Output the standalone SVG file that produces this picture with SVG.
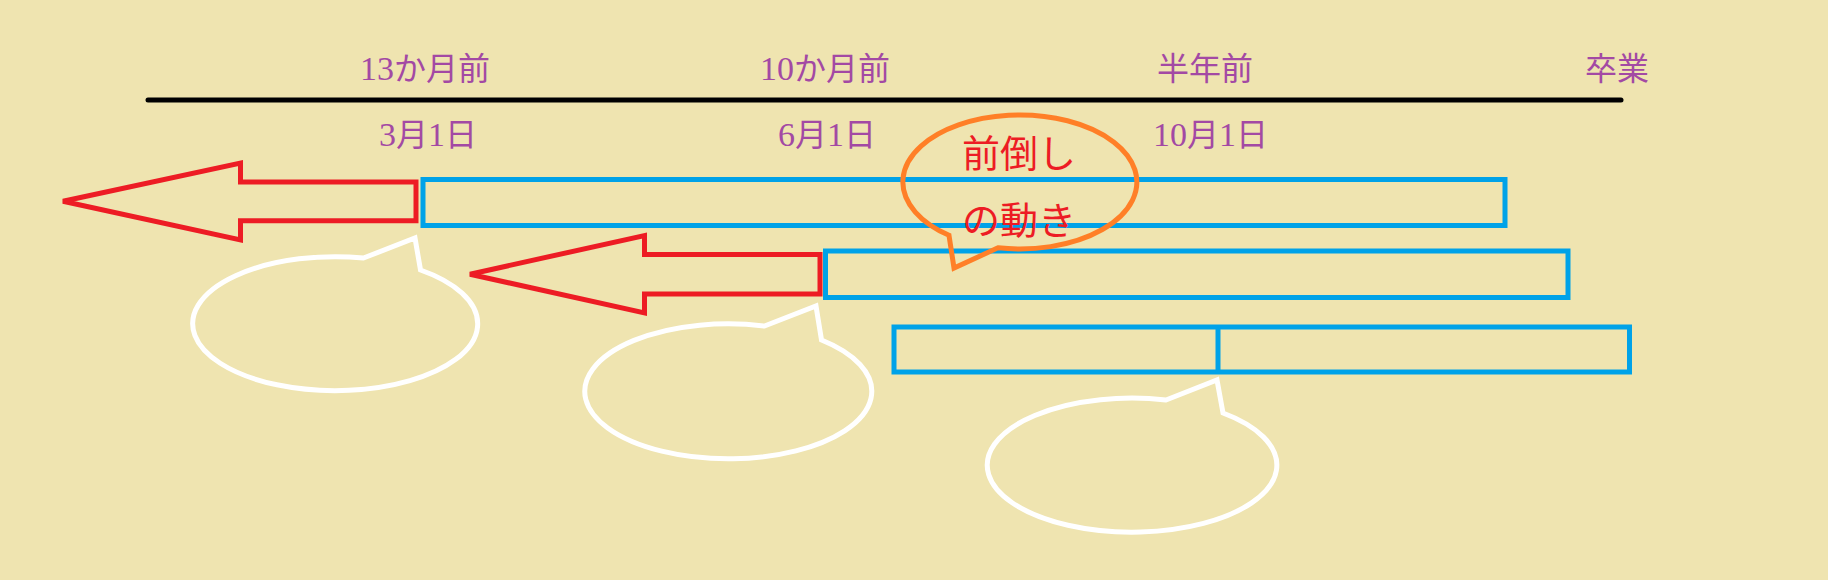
<svg xmlns="http://www.w3.org/2000/svg" width="1828" height="580" viewBox="0 0 1828 580">
<style>
.lbl{font-family:"Liberation Serif","Noto Sans CJK JP",serif;font-size:32px;fill:#A349A4}
.d{font-size:34px}
.say{font-family:"Liberation Serif","Noto Sans CJK JP",sans-serif;font-size:38px;fill:#ED1C24}
.bar{fill:none;stroke:#00A2E8;stroke-width:5}
.arr{fill:none;stroke:#ED1C24;stroke-width:5;stroke-linejoin:miter}
.wb{fill:none;stroke:#FFFFFF;stroke-width:5}
.ob{fill:none;stroke:#FF7F27;stroke-width:5}
</style>
<rect width="1828" height="580" fill="#EFE4B0"/>
<g id="connectors">
<line x1="148" y1="100" x2="1621" y2="100" stroke="#000" stroke-width="5" stroke-linecap="round"/>
</g>
<g id="top-labels">
<text class="lbl" x="360" y="79.5"><tspan class="d">13</tspan>か月前</text>
<text class="lbl" x="760" y="79.5"><tspan class="d">10</tspan>か月前</text>
<text class="lbl" x="1157" y="79.5">半年前</text>
<text class="lbl" x="1585" y="79.5">卒業</text>
</g>
<g id="date-labels">
<text class="lbl" x="379" y="146"><tspan class="d">3</tspan>月<tspan class="d">1</tspan>日</text>
<text class="lbl" x="778" y="146"><tspan class="d">6</tspan>月<tspan class="d">1</tspan>日</text>
<text class="lbl" x="1153" y="146"><tspan class="d">10</tspan>月<tspan class="d">1</tspan>日</text>
</g>
<g id="bar1"><rect class="bar" x="423" y="179.5" width="1082" height="46"/></g>
<g id="bar2"><rect class="bar" x="825.5" y="251" width="742.5" height="46.5"/></g>
<g id="bar3"><rect class="bar" x="894" y="327" width="735.5" height="45"/><line class="bar" x1="1218" y1="327" x2="1218" y2="372"/></g>
<g id="arrow1"><polygon class="arr" points="416,182 240.5,182 240.5,163 63,201.3 240.5,240 240.5,220.7 416,220.7"/></g>
<g id="arrow2"><polygon class="arr" points="820,254.5 644.5,254.5 644.5,235.5 470,274.2 644.5,313 644.5,294 820,294"/></g>
<g id="bubble1"><path class="wb" d="M363.5,258 L415,238 L420.5,270 A142.5 67 0 1 1 363.5,258 Z"/></g>
<g id="bubble2"><path class="wb" d="M764.5,326 L816,306 L821.5,340 A143.5 67.5 0 1 1 764.5,326 Z"/></g>
<g id="bubble3"><path class="wb" d="M1166,400 L1217,380 L1223,413 A144.8 67 0 1 1 1166,400 Z"/></g>
<g id="orange-bubble">
<path class="ob" d="M949,235.3 L954,268 L998,247.8 A117 67 0 1 0 949,235.3 Z"/>
<text class="say" x="962" y="167">前倒し</text>
<text class="say" x="962" y="234">の動き</text>
</g>
</svg>
